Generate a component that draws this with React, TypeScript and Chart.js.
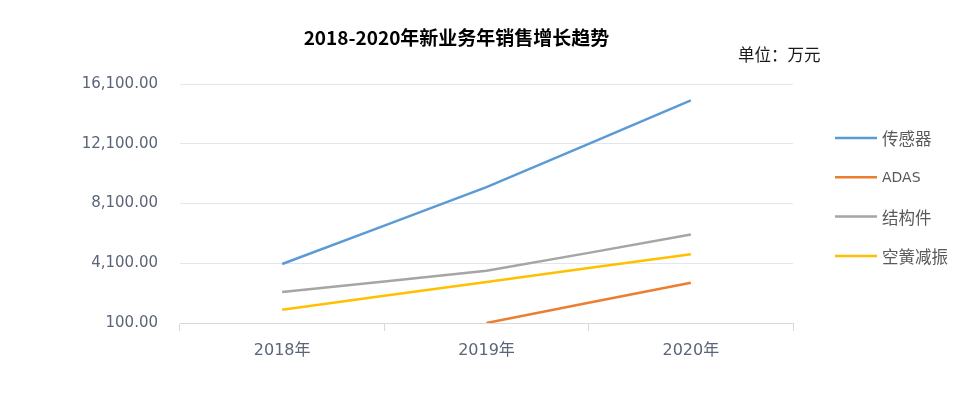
import React, { useEffect, useRef } from "react";
import { Chart, registerables } from "chart.js";

Chart.register(...registerables);

const categories = ["2018年", "2019年", "2020年"];
const seriesNames = ["传感器", "ADAS", "结构件", "空簧减振"];
const sensorValues = [4050, 9200, 15000];
const adasValues: (number | null)[] = [null, 100, 2800];
const structureValues = [2180, 3600, 6020];
const airSpringValues = [990, 2850, 4700];
const seriesColors = ["#5b9bd5", "#ed7d31", "#a5a5a5", "#ffc000"];
const yTickValues = [100, 4100, 8100, 12100, 16100];
const titleText = "2018-2020年新业务年销售增长趋势";
const unitText = "单位：万元";

const tickFont = "'DejaVu Sans', 'Noto Sans CJK SC', sans-serif";
const cjkFont = "'Noto Sans CJK SC', 'DejaVu Sans', sans-serif";

const overlayPlugin = {
  id: "overlayTexts",
  afterDraw(chart: any) {
    const ctx = chart.ctx as CanvasRenderingContext2D;
    ctx.save();
    // title
    ctx.fillStyle = "#000000";
    ctx.font = `bold 19px ${cjkFont}`;
    ctx.textAlign = "center";
    ctx.textBaseline = "middle";
    ctx.fillText(titleText, 456.5, 38);
    // unit
    ctx.font = `16.5px ${cjkFont}`;
    ctx.textAlign = "left";
    ctx.fillStyle = "#1a1a1a";
    ctx.fillText(unitText, 738, 55);
    // legend
    const ds = chart.data.datasets;
    ds.forEach((d: any, i: number) => {
      const y = 138 + i * 39.3;
      ctx.strokeStyle = d.borderColor;
      ctx.lineWidth = 2.5;
      ctx.beginPath();
      ctx.moveTo(835, y);
      ctx.lineTo(877, y);
      ctx.stroke();
      ctx.fillStyle = "#595959";
      const isLatin = /^[A-Za-z]+$/.test(d.label);
      ctx.font = isLatin ? `14px ${tickFont}` : `16.5px ${cjkFont}`;
      ctx.fillText(d.label, 882, y + 1);
    });
    ctx.restore();
  },
};

export default function App() {
  const canvasRef = useRef<HTMLCanvasElement | null>(null);

  useEffect(() => {
    const canvas = canvasRef.current;
    if (!canvas) return;
    const valueSets = [sensorValues, adasValues, structureValues, airSpringValues];
    const chart = new Chart(canvas, {
      type: "line",
      data: {
        labels: categories,
        datasets: seriesNames.map((name, i) => ({
          label: name,
          data: valueSets[i],
          borderColor: seriesColors[i],
          backgroundColor: seriesColors[i],
          borderWidth: 2.5,
          pointRadius: 0,
          pointHoverRadius: 0,
          tension: 0.08,
          fill: false,
        })),
      },
      options: {
        responsive: false,
        animation: false,
        layout: { padding: { left: 0, right: 177, top: 84, bottom: 0 } },
        plugins: {
          legend: { display: false },
          title: { display: false },
          tooltip: { enabled: false },
        },
        scales: {
          x: {
            type: "category",
            offset: true,
            afterFit: (scale: any) => {
              scale.height = 70;
            },
            grid: {
              offset: true,
              drawOnChartArea: false,
              drawTicks: true,
              tickLength: 8,
              color: "#d9d9d9",
            },
            border: { display: true, color: "#d9d9d9", width: 1 },
            ticks: {
              padding: 10,
              color: "#5b6577",
              font: { family: tickFont, size: 16 },
              maxRotation: 0,
            },
          },
          y: {
            type: "linear",
            min: 100,
            max: 16100,
            afterFit: (scale: any) => {
              scale.width = 180;
            },
            afterBuildTicks: (scale: any) => {
              scale.ticks = yTickValues.map((v) => ({ value: v }));
            },
            grid: {
              drawTicks: false,
              color: "#e3e6ec",
            },
            border: { display: false },
            ticks: {
              padding: 22,
              color: "#5b6577",
              font: { family: tickFont, size: 15 },
              callback: (v: any) =>
                Number(v).toLocaleString("en-US", {
                  minimumFractionDigits: 2,
                  maximumFractionDigits: 2,
                }),
            },
          },
        },
      },
      plugins: [overlayPlugin],
    });
    return () => chart.destroy();
  }, []);

  return (
    <div style={{ position: "absolute", left: 0, top: 0, width: 970, height: 393, background: "#ffffff" }}>
      <canvas ref={canvasRef} width={970} height={393} style={{ display: "block" }} />
    </div>
  );
}
